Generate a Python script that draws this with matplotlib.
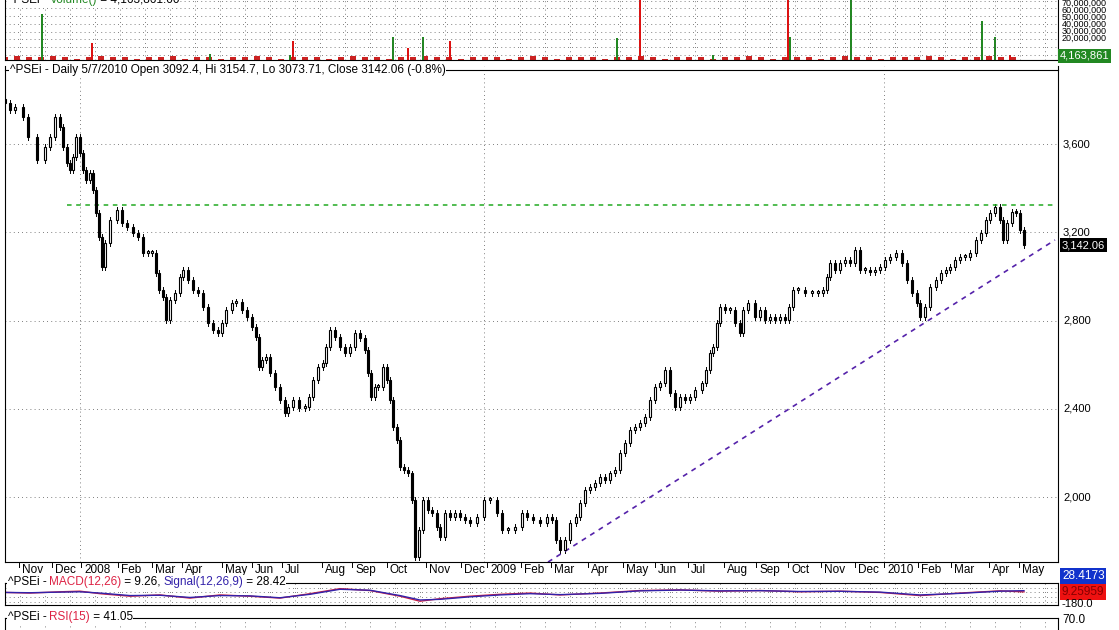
import numpy as np
import matplotlib
matplotlib.use('Agg')
import matplotlib.pyplot as plt
from matplotlib.patches import Rectangle

plt.rcParams['font.family'] = ['Liberation Sans', 'DejaVu Sans']

# ==========================================
# data (x = bar position on the chart's session axis)
# ==========================================
bar_pos = [5, 10, 15, 23, 28, 37, 45, 50, 55, 60, 63, 67, 70, 73, 76, 80, 83, 86, 90, 93,
           96, 99, 102, 105, 110, 117, 122, 127, 133, 138, 143, 148, 152, 156, 159, 163, 166, 170, 175, 180,
           183, 188, 193, 198, 203, 208, 213, 218, 222, 226, 232, 236, 242, 247, 252, 256, 259, 262, 266, 270,
           275, 280, 285, 288, 293, 299, 305, 309, 313, 318, 323, 326, 330, 335, 340, 345, 350, 355, 360, 365,
           368, 371, 375, 378, 383, 387, 390, 393, 397, 400, 404, 408, 412, 415, 419, 423, 428, 432, 437, 440,
           445, 450, 455, 460, 465, 470, 477, 484, 490, 497, 502, 508, 515, 522, 527, 533, 540, 547, 552, 556,
           560, 565, 570, 576, 580, 585, 590, 595, 600, 605, 610, 615, 620, 625, 630, 635, 640, 645, 650, 655,
           660, 665, 670, 675, 680, 685, 690, 695, 702, 706, 710, 713, 717, 720, 725, 730, 735, 740, 743, 748,
           755, 760, 765, 770, 775, 780, 785, 789, 793, 798, 805, 812, 818, 823, 827, 830, 835, 840, 845, 850,
           855, 860, 865, 870, 875, 880, 885, 890, 896, 902, 907, 912, 917, 920, 925, 930, 936, 941, 946, 950,
           955, 960, 965, 970, 976, 981, 986, 990, 995, 1000, 1003, 1007, 1012, 1016, 1020, 1024]
close = [3786, 3754, 3768, 3722, 3632, 3527, 3586, 3632, 3722, 3677, 3586, 3514, 3482, 3541, 3632, 3559, 3482, 3437, 3468, 3391,
         3287, 3178, 3042, 3151, 3255, 3301, 3242, 3224, 3197, 3178, 3106, 3106, 3106, 3015, 2938, 2906, 2802, 2893, 2925, 2997,
         3029, 2984, 2938, 2925, 2861, 2789, 2757, 2743, 2789, 2847, 2879, 2884, 2847, 2816, 2770, 2725, 2589, 2621, 2634, 2562,
         2498, 2440, 2381, 2408, 2440, 2403, 2408, 2453, 2530, 2589, 2607, 2680, 2757, 2725, 2680, 2653, 2680, 2743, 2721, 2666,
         2562, 2453, 2498, 2498, 2589, 2530, 2440, 2317, 2258, 2136, 2122, 2108, 1986, 1728, 1850, 1986, 1941, 1927, 1864, 1818,
         1927, 1909, 1927, 1909, 1896, 1882, 1909, 1986, 1986, 1927, 1850, 1850, 1864, 1927, 1909, 1896, 1882, 1909, 1896, 1805,
         1760, 1805, 1882, 1909, 1973, 2032, 2045, 2063, 2090, 2077, 2108, 2122, 2199, 2245, 2304, 2317, 2335, 2363, 2440, 2498,
         2516, 2575, 2471, 2408, 2453, 2440, 2453, 2485, 2516, 2575, 2653, 2680, 2789, 2861, 2847, 2847, 2789, 2743, 2847, 2879,
         2816, 2847, 2802, 2816, 2802, 2816, 2802, 2861, 2938, 2938, 2925, 2925, 2925, 2938, 2997, 3060, 3029, 3060, 3074, 3060,
         3119, 3029, 3029, 3020, 3029, 3042, 3074, 3088, 3106, 3060, 2984, 2925, 2879, 2816, 2861, 2952, 2984, 3015, 3029, 3042,
         3074, 3088, 3088, 3106, 3165, 3197, 3256, 3287, 3314, 3256, 3165, 3242, 3292, 3287, 3210, 3142.06]

month_pos = [19, 52, 81, 118, 152, 182, 222, 252, 282, 322, 352, 387, 426, 461, 487, 521, 551,
             588, 623, 655, 688, 724, 756, 788, 821, 855, 884, 918, 951, 989, 1019]
month_labels = ['Nov', 'Dec', '2008', 'Feb', 'Mar', 'Apr', 'May', 'Jun', 'Jul', 'Aug', 'Sep', 'Oct',
                'Nov', 'Dec', '2009', 'Feb', 'Mar', 'Apr', 'May', 'Jun', 'Jul', 'Aug', 'Sep', 'Oct',
                'Nov', 'Dec', '2010', 'Feb', 'Mar', 'Apr', 'May']
year_pos = [80, 484, 884]

resist_level = 3323
trend_start = (548, 1705)
trend_end = (1055, 3165)

# volume spikes (millions) and colour
vol_pos = [42, 92, 210, 290, 293, 393, 408, 423, 450, 617, 640, 713, 788, 790, 851, 982, 995, 1010]
vol_val = [36, 13, 5, 4, 15, 18, 9, 18, 15, 17, 60, 4, 50, 18, 50, 30, 18, 4]
vol_up = [1, 0, 1, 1, 0, 1, 0, 1, 0, 1, 0, 1, 0, 1, 1, 1, 1, 0]
vol_base_pos = list(range(5, 1025, 12))
vol_base = [2, 3, 2, 2, 3, 2, 1, 2, 3, 2, 2, 1, 2, 2, 3, 1, 2, 2, 1, 2, 2, 3, 2, 1, 2, 2, 2, 1, 2, 3,
            2, 2, 1, 2, 2, 3, 2, 2, 1, 2, 2, 2, 1, 2, 3, 2, 1, 2, 2, 2, 1, 2, 2, 3, 2, 1, 2, 2, 2, 1,
            2, 2, 3, 2, 1, 2, 2, 2, 1, 2, 3, 2, 2, 1, 2, 2, 2, 3, 2, 1, 2, 2, 3, 2, 2]

# MACD / signal
macd_pos = [5, 30, 60, 80, 100, 130, 160, 190, 220, 250, 280, 310, 340, 370, 400, 420, 440, 470,
            500, 530, 560, 600, 640, 680, 720, 760, 800, 840, 880, 920, 960, 1000, 1024]
macd = [0, -10, 10, 20, -20, -60, -40, -90, -40, -60, -90, -20, 60, 30, -60, -140, -100, -60,
        -30, -10, -40, -10, 30, 40, 20, 30, 10, 20, 0, -50, -10, 25, 9]
signal = [0, -5, 5, 10, -10, -50, -45, -80, -50, -55, -85, -30, 50, 35, -50, -120, -110, -70,
          -40, -20, -35, -15, 25, 38, 25, 28, 15, 18, 5, -40, -15, 20, 28]

rsi_pos = [5, 40, 80, 120, 160, 200, 240, 300, 330, 360, 420, 460, 500, 560, 620, 680, 720, 780, 840, 900, 960, 1000, 1024]
rsi = [62, 66, 55, 50, 58, 52, 60, 55, 68, 64, 50, 60, 55, 58, 62, 64, 70, 62, 66, 58, 70, 62, 41]

# ==========================================
# figure
# ==========================================
W, H = 1119, 630
fig = plt.figure(figsize=(W / 100, H / 100), dpi=100)
renderer = fig.canvas.get_renderer()


def px_axes(x0, y0, x1, y1):
    return fig.add_axes([x0 / W, 1 - y1 / H, (x1 - x0) / W, (y1 - y0) / H])


def colored_title(x_px, y_px, parts, size=8.5):
    # draw text pieces one after another, each in its own colour
    x = x_px
    for s, col in parts:
        t = fig.text(x / W, 1 - y_px / H, s, fontsize=size, color=col, va='center', ha='left',
                     bbox=dict(boxstyle='square,pad=0.05', fc='white', ec='none'))
        x += t.get_window_extent(renderer).width - 0.5


XL = (5, 1058)
dot = dict(color='#555555', linestyle=(0, (1, 4)), linewidth=0.6)

# --- volume ---
axv = px_axes(5, -2, 1058, 60)
axv.set_xlim(XL)
axv.set_ylim(0, 48)
axv.bar(vol_base_pos, vol_base, width=6, color='#cc2222', linewidth=0)
axv.bar(vol_pos, vol_val, width=1.6, color=['#228822' if u else '#dd1111' for u in vol_up], linewidth=0)
for y in np.arange(4, 48, 6):
    axv.axhline(y, **dot)
for x in np.arange(20, 1058, 25):
    axv.axvline(x, **dot)
axv.set_xticks([]); axv.set_yticks([])
for s in axv.spines.values():
    s.set_linewidth(0.8)
colored_title(8, 0, [('^PSEi - ', 'black'), ('Volume()', '#228822'), (' = 4,163,861.00', 'black')], 8.5)
for i, lab in enumerate(['70,000,000', '60,000,000', '50,000,000', '40,000,000', '30,000,000', '20,000,000']):
    fig.text(1062 / W, 1 - (3 + i * 7) / H, lab, fontsize=6.5, va='center')
fig.text(1060 / W, 1 - 56 / H, '4,163,861', fontsize=8, va='center', color='white',
         bbox=dict(boxstyle='square,pad=0.15', fc='#228822', ec='none'))

# --- price ---
ax = px_axes(5, 66, 1058, 562)
ax.set_xlim(XL)
ylo = 3600 - (562 - 144) * 400 / 88.25
yhi = 3600 + (144 - 66) * 400 / 88.25
ax.set_ylim(ylo, yhi)
for y in [2000, 2400, 2800, 3200, 3600]:
    ax.axhline(y, **dot)
for x in year_pos:
    ax.axvline(x, **dot)
prev = close[0] + 20
for x, c in zip(bar_pos, close):
    lo, hi = min(prev, c), max(prev, c)
    h = max(hi - lo, 8)
    fc = 'white' if c >= prev else 'black'
    ax.add_patch(Rectangle((x - 1.4, lo), 2.8, h, fc=fc, ec='black', lw=0.8, zorder=3))
    ax.plot([x, x], [lo - 12, hi + 12], color='black', lw=0.7, zorder=2)
    prev = c
ax.plot([67, 1055], [resist_level, resist_level], color='#22aa22', lw=1.1, linestyle=(0, (3, 3)))
ax.plot([trend_start[0], trend_end[0]], [trend_start[1], trend_end[1]], color='#5522aa', lw=1.2,
        linestyle=(0, (3, 3)))
ax.set_xticks([]); ax.set_yticks([])
ax.spines['top'].set_visible(False)
ax.plot([0, 1], [0.992, 0.992], transform=ax.transAxes, color='black', lw=0.8, clip_on=False)
colored_title(10, 70, [('^PSEi - Daily 5/7/2010 Open 3092.4, Hi 3154.7, Lo 3073.71, Close 3142.06 (-0.8%)', 'black')])
for v in [2000, 2400, 2800, 3200, 3600]:
    ax.text(1063, v, f'{v:,}', fontsize=8, va='center', clip_on=False)
ax.text(1062, 3142.06, '3,142.06', fontsize=8, va='center', color='white', clip_on=False,
        bbox=dict(boxstyle='square,pad=0.15', fc='black', ec='none'))
# month labels
for x, lab in zip(month_pos, month_labels):
    fig.add_artist(plt.Line2D([x / W, x / W], [1 - 563 / H, 1 - 567 / H], color='black', lw=0.7))
    fig.text((x + 3) / W, 1 - 570 / H, lab, fontsize=8.5, va='center', ha='left')

# --- MACD ---
axm = px_axes(5, 583, 1058, 605)
axm.set_xlim(XL)
axm.set_ylim(-200, 150)
for y in [-150, -75, 0, 75]:
    axm.axhline(y, **dot)
for x in np.arange(20, 1058, 25):
    axm.axvline(x, **dot)
axm.plot(macd_pos, macd, color='#cc2244', lw=1.0)
axm.plot(macd_pos, signal, color='#3322aa', lw=1.0)
axm.set_xticks([]); axm.set_yticks([])
colored_title(8, 582, [('^PSEi - ', 'black'), ('MACD(12,26)', '#dd2244'), (' = 9.26, ', 'black'),
                       ('Signal(12,26,9)', '#3322aa'), (' = 28.42', 'black')])
fig.text(1062 / W, 1 - 576 / H, '28.4173', fontsize=8.5, va='center', color='white',
         bbox=dict(boxstyle='square,pad=0.15', fc='#1133cc', ec='none'))
fig.text(1062 / W, 1 - 592 / H, '9.25959', fontsize=8.5, va='center', color='#880000',
         bbox=dict(boxstyle='square,pad=0.15', fc='#ee1111', ec='none'))
fig.text(1062 / W, 1 - 604 / H, '-180.0', fontsize=8, va='center')

# --- RSI ---
axr = px_axes(5, 618, 1058, 660)
axr.set_xlim(XL)
axr.set_ylim(0, 100)
axr.axhline(70, **dot)
for x in np.arange(20, 1058, 25):
    axr.axvline(x, **dot)
axr.plot(rsi_pos, rsi, color='#cc2222', lw=0.8)
axr.set_xticks([]); axr.set_yticks([])
colored_title(8, 617, [('^PSEi - ', 'black'), ('RSI(15)', '#dd2244'), (' = 41.05', 'black')])
fig.text(1062 / W, 1 - 620 / H, '70.0', fontsize=8.5, va='center')

fig.savefig('out.png', dpi=100)
